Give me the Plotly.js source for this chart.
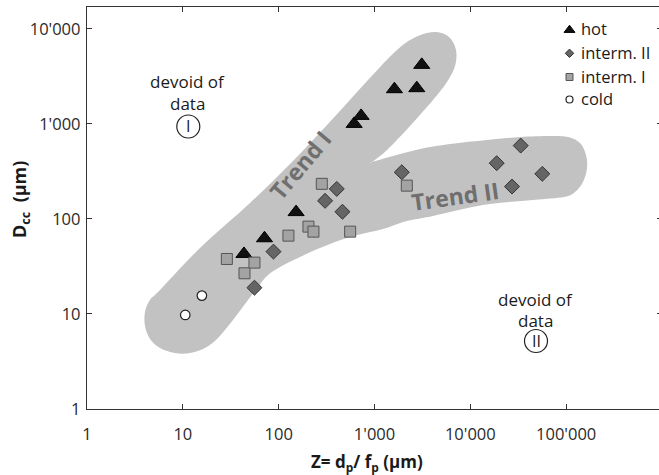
<!DOCTYPE html>
<html>
<head>
<meta charset="utf-8">
<script src="https://cdn.plot.ly/plotly-3.0.1.min.js"></script>
<style>
html,body{margin:0;padding:0;overflow:hidden;background:#fff;}
#chart{width:662px;height:475px;}
</style>
</head>
<body>
<div id="chart"></div>
<script>
// ---- data ----
const seriesNames = ["hot", "interm. II", "interm. I", "cold"];
const hotZ   = [43.4, 71.1, 152, 613, 725, 1614, 2761, 3113];
const hotD   = [42.8, 62.6, 118, 1000, 1214, 2318, 2376, 4180];
const int2Z  = [55.9, 88.3, 305, 404, 463, 1927, 18840, 27220, 33560, 56330];
const int2D  = [18.9, 45.3, 155, 207, 119, 310, 386, 219, 591, 298];
const int1Z  = [28.8, 44, 55.9, 126.5, 204.5, 230.6, 282, 557, 2173];
const int1D  = [37.9, 26.8, 34.7, 66.7, 83, 73.5, 234, 73.5, 224];
const coldZ  = [10.6, 15.8];
const coldD  = [9.76, 15.6];
const xTickVals = [1, 10, 100, 1000, 10000, 100000];
const xTickText = ["1", "10", "100", "1'000", "10'000", "100'000"];
const yTickVals = [1, 10, 100, 1000, 10000];
const yTickText = ["1", "10", "100", "1'000", "10'000"];

// ---- layout geometry ----
const W = 662, H = 475, M = {l:87, r:0, t:7, b:66};
const PW = W - M.l - M.r, PH = H - M.t - M.b;
function px(x){ return (x - M.l) / PW; }
function py(y){ return (H - M.b - y) / PH; }

// outline of the grey trend bands (page pixels)
const bandOutline = [
 [150,300],[160,290],[200,248],[250,203],[290,164],[328,124],[368,80],[398,49],[418,36],[436,32],[449,37],[456,50],[455,66],[447,82],
 [433,100],[410,126],[387,150],[372,162],[372,162],
 [393,156],[420,149],[450,144],[487,140],[520,137],[550,136],[568,137],[580,143],[586,155],[587,168],[583,182],[575,192],[564,197],
 [533,200],[483,205],[433,216],[407,221],[383,229],[350,237],[320,248],[298,258],[280,267],[267,276],
 [258,287],[248,300],[233,320],[218,338],[205,348],[190,353],[175,353],[160,348],[150,339],[145,326],[145,312]
];
function closedSpline(pts){
  const n = pts.length, P = pts.map(p => [px(p[0]), py(p[1])]);
  let d = 'M' + P[0][0] + ',' + P[0][1];
  for (let i = 0; i < n; i++){
    const p0 = P[(i-1+n)%n], p1 = P[i], p2 = P[(i+1)%n], p3 = P[(i+2)%n];
    const c1 = [p1[0] + (p2[0]-p0[0])/6, p1[1] + (p2[1]-p0[1])/6];
    const c2 = [p2[0] - (p3[0]-p1[0])/6, p2[1] - (p3[1]-p1[1])/6];
    d += ' C' + c1[0] + ',' + c1[1] + ' ' + c2[0] + ',' + c2[1] + ' ' + p2[0] + ',' + p2[1];
  }
  return d + ' Z';
}

const font = "Open Sans, Noto Sans, sans-serif";
const markerStyles = [
  {symbol:'triangle-up', size:14, color:'#111111', line:{color:'#000000', width:1}},
  {symbol:'diamond', size:11.5, color:'#656565', line:{color:'#333333', width:1}},
  {symbol:'square', size:11, color:'#a3a3a3', line:{color:'#555555', width:1}},
  {symbol:'circle', size:9.5, color:'#ffffff', line:{color:'#222222', width:1.2}}
];
const xs = [hotZ, int2Z, int1Z, coldZ], ys = [hotD, int2D, int1D, coldD];

const traces = [];
for (let i = 0; i < 4; i++){
  traces.push({type:'scatter', mode:'markers', x:xs[i], y:ys[i], name:seriesNames[i],
    showlegend:false, marker:markerStyles[i], hoverinfo:'x+y+name'});
}
// hand-made legend: symbols on an overlay axis in plot-fraction units
const legendSizes = [9.5, 6.5, 7, 7];
const legendSymX = 569.5, legendRowsY = [30, 53.3, 77, 99.5], legendTextY = [29, 52.7, 76, 98.3];
for (let i = 0; i < 4; i++){
  const m = Object.assign({}, markerStyles[i], {size:legendSizes[i]});
  traces.push({type:'scatter', mode:'markers', x:[px(legendSymX)], y:[py(legendRowsY[i])], xaxis:'x2', yaxis:'y2',
    name:seriesNames[i], showlegend:false, marker:m, hoverinfo:'skip'});
}

const txt = (x, y, t, size, extra) => Object.assign({xref:'paper', yref:'paper', x:px(x), y:py(y),
  text:t, showarrow:false, xanchor:'center', yanchor:'middle', font:{family:font, size:size, color:'#1a1a1a'}}, extra||{});

const annotations = [
  txt(187, 81, 'devoid of', 17),
  txt(187, 103, 'data', 17),
  txt(188.3, 126.5, 'I', 16),
  txt(535, 299, 'devoid of', 17),
  txt(535, 320, 'data', 17),
  txt(536, 341, 'II', 16),
  txt(300, 165, '<b>Trend I</b>', 23, {textangle:-50, font:{family:font, size:23, color:'#6f6f6f'}}),
  txt(455, 196, '<b>Trend II</b>', 23, {textangle:-8, font:{family:font, size:23, color:'#6f6f6f'}}),
  txt(20, 200, '<b>D<sub>cc</sub>  (µm)</b>', 18, {textangle:-90}),
  txt(367, 462, '<b>Z= d<sub>p</sub>/ f<sub>p</sub> (µm)</b>', 17)
];
for (let i = 0; i < 4; i++){
  annotations.push(txt(578.5, legendTextY[i], seriesNames[i], 16.5, {xanchor:'left'}));
}

const circ = (cx, cy, r) => ({type:'circle', xref:'paper', yref:'paper',
  x0:px(cx-r), x1:px(cx+r), y0:py(cy+r), y1:py(cy-r), line:{color:'#222', width:1.2}, fillcolor:'rgba(0,0,0,0)'});

const shapes = [
  {type:'path', xref:'paper', yref:'paper', path:closedSpline(bandOutline), fillcolor:'#c2c2c2', line:{width:0}, layer:'below'},
  circ(188.3, 126.5, 11.5),
  circ(536, 341, 11.5)
];

const axisCommon = {type:'log', showgrid:false, zeroline:false, showline:true, linecolor:'#333', linewidth:1.2,
  ticks:'inside', ticklen:5, tickwidth:1, tickcolor:'#333', mirror:'ticks',
  tickfont:{family:font, size:16.5, color:'#2a2a2a'}, minor:{ticks:''}};

const layout = {
  width:W, height:H, margin:M, paper_bgcolor:'#fff', plot_bgcolor:'rgba(0,0,0,0)',
  font:{family:font},
  xaxis:Object.assign({}, axisCommon, {range:[0, 6], tickvals:xTickVals, ticktext:xTickText, ticklabelstandoff:10}),
  yaxis:Object.assign({}, axisCommon, {range:[0, 4.23], tickvals:yTickVals, ticktext:yTickText, ticklabelstandoff:2}),
  xaxis2:{overlaying:'x', anchor:'y2', range:[0,1], visible:false, fixedrange:true},
  yaxis2:{overlaying:'y', anchor:'x2', range:[0,1], visible:false, fixedrange:true},
  showlegend:false,
  annotations:annotations, shapes:shapes
};

Plotly.newPlot('chart', traces, layout, {displayModeBar:false, staticPlot:true});
</script>
</body>
</html>
